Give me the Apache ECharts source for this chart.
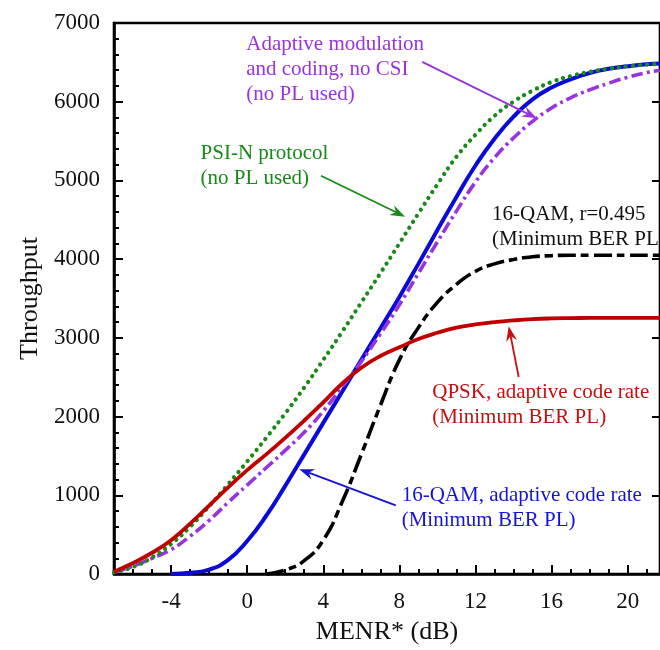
<!DOCTYPE html>
<html><head><meta charset="utf-8">
<script src="https://cdn.jsdelivr.net/npm/echarts@6/dist/echarts.min.js"></script>
<style>html,body{margin:0;padding:0;background:#fff}#c{width:660px;height:650px}</style>
</head><body><div id="c"></div>
<script>
// ---- data ----
const menr = [-7,-6,-5,-4,-3,-2,-1,0,1,2,3,4,5,6,7,8,9,10,11,12,13,14,15,16,17,18,19,20,21,21.7];
const psiNProtocol   = [20,90,210,380,600,860,1140,1430,1730,2040,2370,2720,3080,3450,3820,4200,4580,4950,5300,5580,5820,6000,6140,6250,6325,6380,6420,6450,6470,6482];
const qam16Adaptive  = [null,null,null,0,15,55,180,420,740,1120,1520,1920,2320,2720,3120,3520,3940,4370,4790,5190,5530,5810,6030,6180,6285,6365,6418,6450,6475,6485];
const amcNoCsi       = [20,100,200,310,480,680,910,1130,1350,1570,1800,2070,2380,2700,3050,3420,3820,4220,4610,4980,5290,5540,5750,5920,6050,6150,6235,6310,6370,6400];
const qam16Fixed     = [null,null,null,null,null,null,null,null,0,50,170,430,920,1520,2140,2720,3130,3450,3680,3845,3940,3995,4030,4045,4050,4050,4050,4050,4050,4050];
const qpskAdaptive   = [30,140,270,430,640,870,1100,1320,1520,1730,1950,2180,2420,2620,2770,2880,2985,3065,3130,3170,3200,3222,3238,3247,3251,3253,3254,3255,3255,3255];
const xTickValues = [-4,0,4,8,12,16,20];
const xAxisTitle = 'MENR* (dB)';
const yAxisTitle = 'Throughput';

// annotation labels and arrows (anchors given in data coordinates)
const noteTexts = [
  {text:'Adaptive modulation\nand coding, no CSI\n(no PL used)', at:[-0.05,6880], color:'#9933dd'},
  {text:'PSI-N protocol\n(no PL used)', at:[-2.45,5500], color:'#178a17'},
  {text:'16-QAM, r=0.495\n(Minimum BER PL)', at:[12.87,4730], color:'#111111'},
  {text:'QPSK, adaptive code rate\n(Minimum BER PL)', at:[9.73,2470], color:'#c41010'},
  {text:'16-QAM, adaptive code rate\n(Minimum BER PL)', at:[8.12,1160], color:'#1414d4'}
];
const noteArrows = [
  {from:[9.2,6506], to:[15.23,5790], color:'#9933dd'},
  {from:[3.88,5060], to:[8.3,4540], color:'#178a17'},
  {from:[14.27,2503], to:[13.75,3148], color:'#c41010'},
  {from:[7.81,873], to:[2.74,1332], color:'#1414d4'}
];

const FONT = '"Liberation Serif","Times New Roman",serif';
const pairs = (ys) => menr.map((x,i)=>[x, ys[i]]).filter(p=>p[1]!==null);

const chart = echarts.init(document.getElementById('c'), null, {renderer:'canvas'});
const axisLineStyle = {color:'#000', width:2.6};
const tickStyle = {color:'#000', width:2};
const SMOOTH = 0.5;

chart.setOption({
  animation:false,
  backgroundColor:'#fff',
  grid:{left:114, right:-2, top:23, bottom:74, show:true, borderColor:'#000', borderWidth:2.6, backgroundColor:'transparent'},
  xAxis:[
    {type:'value', min:-7, max:21.7, position:'bottom',
     axisLine:{onZero:false, lineStyle:axisLineStyle},
     axisTick:{inside:true, length:9, customValues:xTickValues, lineStyle:tickStyle},
     axisLabel:{customValues:xTickValues, fontSize:23, fontFamily:FONT, color:'#111', margin:16, formatter:v=>String(v)},
     splitLine:{show:false},
     name:xAxisTitle, nameLocation:'middle', nameGap:45,
     nameTextStyle:{fontSize:26, fontFamily:FONT, color:'#111'}},
    {type:'value', min:-7, max:21.7, interval:1, position:'bottom',
     axisLine:{show:false, onZero:false},
     axisTick:{inside:true, length:5, lineStyle:tickStyle},
     axisLabel:{show:false}, splitLine:{show:false}}
  ],
  yAxis:[
    {type:'value', min:0, max:7000, interval:1000, position:'left',
     axisLine:{onZero:false, lineStyle:axisLineStyle},
     axisTick:{inside:true, length:9, lineStyle:tickStyle},
     axisLabel:{fontSize:23, fontFamily:FONT, color:'#111', margin:14, formatter:v=>String(v)},
     splitLine:{show:false},
     name:yAxisTitle, nameLocation:'middle', nameGap:70, nameRotate:90,
     nameTextStyle:{fontSize:26, fontFamily:FONT, color:'#111'}},
    {type:'value', min:0, max:7000, interval:200, position:'left',
     axisLine:{show:false, onZero:false},
     axisTick:{inside:true, length:5, lineStyle:tickStyle},
     axisLabel:{show:false}, splitLine:{show:false}},
    {type:'value', min:0, max:7000, interval:1000, position:'right',
     axisLine:{show:false, onZero:false},
     axisTick:{inside:true, length:8, lineStyle:tickStyle},
     axisLabel:{show:false}, splitLine:{show:false}}
  ],
  series:[
    {name:'16-QAM adaptive', type:'line', data:pairs(qam16Adaptive), showSymbol:false, smooth:SMOOTH,
     lineStyle:{color:'#0a0ad8', width:4}, z:2},
    {name:'AMC no CSI', type:'line', data:pairs(amcNoCsi), showSymbol:false, smooth:SMOOTH,
     lineStyle:{color:'#9933dd', width:3.6, type:[12,4,3,4]}, z:3},
    {name:'PSI-N', type:'line', data:pairs(psiNProtocol), showSymbol:false, smooth:SMOOTH,
     lineStyle:{color:'#178a17', width:4.2, type:[0.1,7], cap:'round'}, z:4},
    {name:'16-QAM r=0.495', type:'line', data:pairs(qam16Fixed), showSymbol:false, smooth:SMOOTH,
     lineStyle:{color:'#000', width:3.6, type:[18,5,8,5]}, z:5},
    {name:'QPSK adaptive', type:'line', data:pairs(qpskAdaptive), showSymbol:false, smooth:SMOOTH,
     lineStyle:{color:'#c00000', width:3.8}, z:6}
  ]
});

function px(p){ return chart.convertToPixel({xAxisIndex:0, yAxisIndex:0}, p); }
const graphics = [];
noteTexts.forEach(n=>{
  const p = px(n.at);
  graphics.push({type:'text', x:p[0], y:p[1], z:20,
    style:{text:n.text, fill:n.color, font:'21px '+FONT, lineHeight:25, align:'left', verticalAlign:'top'}});
});
noteArrows.forEach(a=>{
  const p0 = px(a.from), p1 = px(a.to);
  const dx = p1[0]-p0[0], dy = p1[1]-p0[1], len = Math.hypot(dx,dy);
  const ux = dx/len, uy = dy/len, nx = -uy, ny = ux;
  const L = 15, W = 5.5, notch = 10;
  const back = [p1[0]-ux*notch, p1[1]-uy*notch];
  graphics.push({type:'line', z:20, shape:{x1:p0[0], y1:p0[1], x2:back[0], y2:back[1]},
    style:{stroke:a.color, lineWidth:1.8}});
  graphics.push({type:'polygon', z:20, shape:{points:[
    p1, [p1[0]-ux*L+nx*W, p1[1]-uy*L+ny*W], back, [p1[0]-ux*L-nx*W, p1[1]-uy*L-ny*W]
  ]}, style:{fill:a.color}});
});
chart.setOption({graphic:graphics});
</script>
</body></html>
